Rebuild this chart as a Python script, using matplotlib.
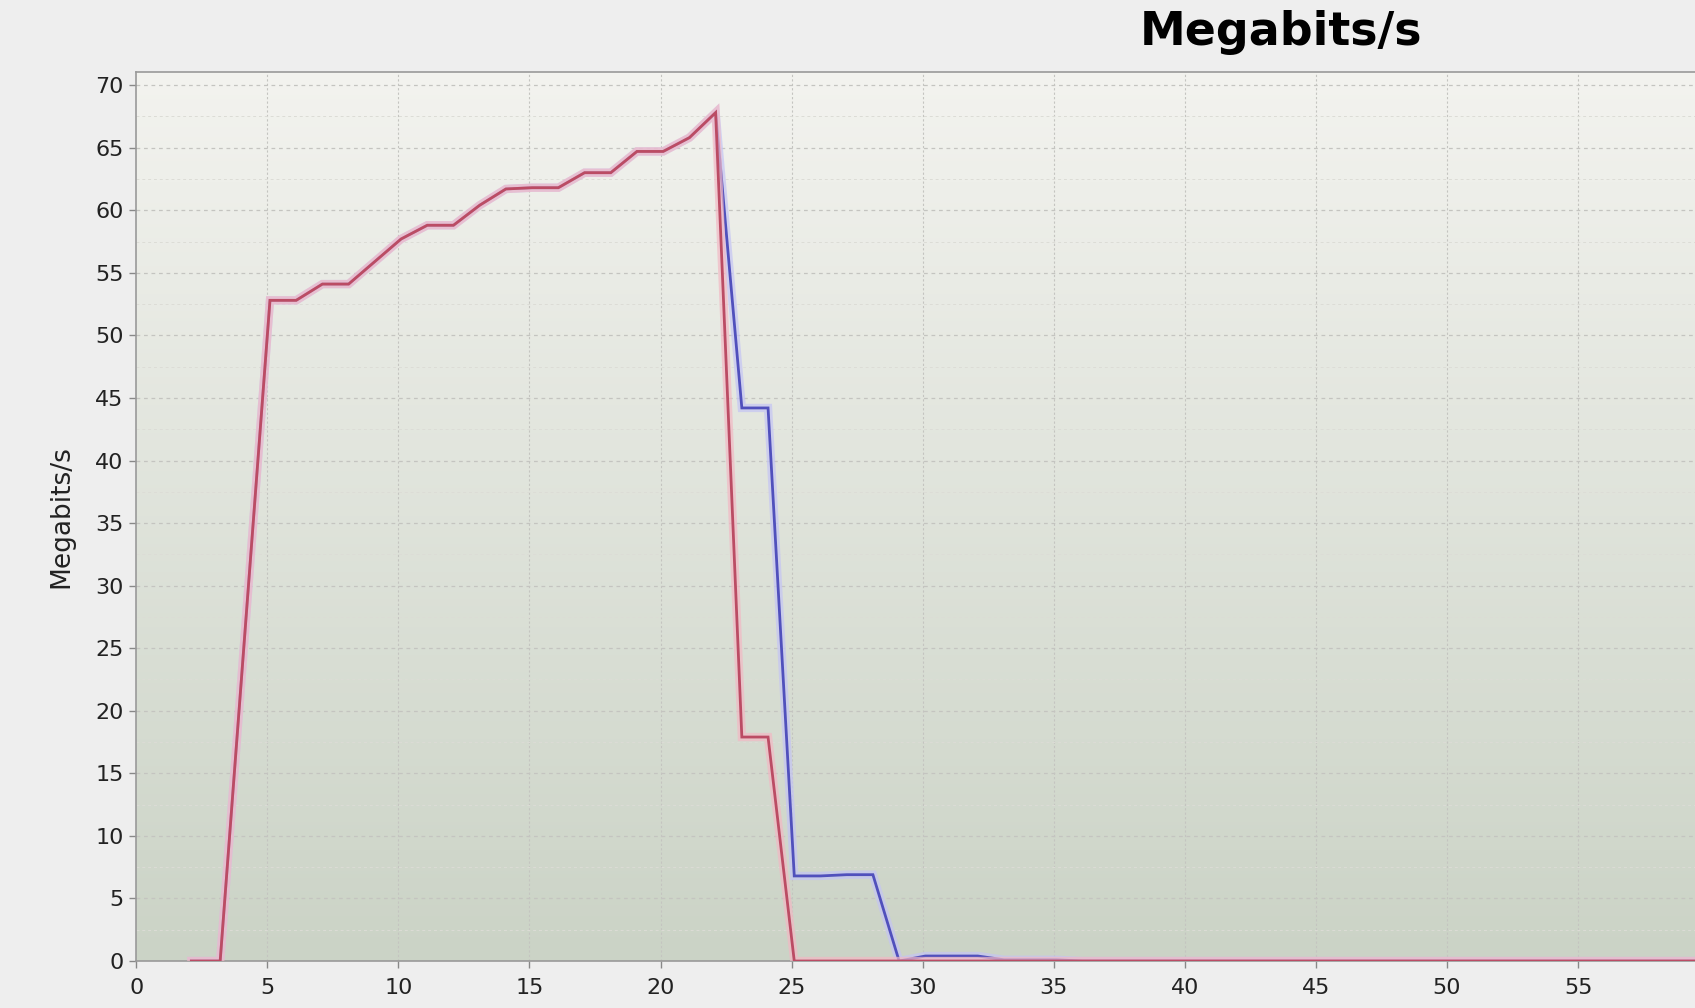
import numpy as np
import matplotlib.pyplot as plt
from matplotlib.colors import LinearSegmentedColormap

# Data (time in s, throughput in Megabits/s)
time_s = [2.1, 3.2, 5.1, 6.1, 7.1, 8.1, 9.1, 10.1, 11.1, 12.1, 13.1, 14.1, 15.1,
          16.1, 17.1, 18.1, 19.1, 20.1, 21.1, 22.1, 23.1, 24.1, 25.1, 26.1, 27.1,
          28.1, 29.1, 30.1, 31.1, 32.1, 33.1, 34.1, 35.1, 36.1, 40.0, 45.0, 50.0,
          55.0, 60.0]
red_mbps = [0, 0, 52.8, 52.8, 54.1, 54.1, 55.9, 57.7, 58.8, 58.8, 60.4, 61.7, 61.8,
            61.8, 63.0, 63.0, 64.7, 64.7, 65.8, 67.8, 17.9, 17.9, 0, 0, 0,
            0, 0, 0, 0, 0, 0, 0, 0, 0, 0, 0, 0,
            0, 0]
blue_mbps = [0, 0, 52.8, 52.8, 54.1, 54.1, 55.9, 57.7, 58.8, 58.8, 60.4, 61.7, 61.8,
             61.8, 63.0, 63.0, 64.7, 64.7, 65.8, 67.8, 44.2, 44.2, 6.8, 6.8, 6.9,
             6.9, 0, 0.4, 0.4, 0.4, 0.1, 0.1, 0.1, 0, 0, 0, 0,
             0, 0]
x_ticks = list(range(0, 60, 5))
y_ticks = list(range(0, 75, 5))

fig = plt.figure(figsize=(16.95, 10.08), dpi=100, facecolor='#eeeeee')
# axes runs off the right edge of the picture (cropped screenshot)
ax = fig.add_axes([0.0804, 0.0466, 0.9196, 0.882])

# plot background gradient (light top, greenish grey bottom)
cmap = LinearSegmentedColormap.from_list('bg', ['#cbd3c6', '#f3f3ef'])
grad = np.linspace(0, 1, 256).reshape(-1, 1)
ax.imshow(grad, cmap=cmap, aspect='auto', origin='lower',
          extent=[0, 1, 0, 1], transform=ax.transAxes, zorder=0)

# grid
for t in x_ticks[1:]:
    ax.axvline(t, color='#c4c4c0', lw=0.8, ls=(0, (2, 2)), zorder=1)
for t in y_ticks[1:]:
    ax.axhline(t, color='#c4c4c0', lw=0.9, ls=(0, (3, 3)), zorder=1)
for t in np.arange(2.5, 71, 5):
    ax.axhline(t, color='#dcdcd6', lw=0.7, ls=(0, (3, 3)), zorder=1)

# lines: soft halo + core, red drawn over blue
ax.plot(time_s, blue_mbps, color='#c4c4f4', lw=6, alpha=0.7, zorder=2,
        solid_joinstyle='miter')
ax.plot(time_s, blue_mbps, color='#5050bc', lw=2, zorder=3,
        solid_joinstyle='miter')
ax.plot(time_s, red_mbps, color='#f2b8c4', lw=6, alpha=0.7, zorder=4,
        solid_joinstyle='miter')
ax.plot(time_s, red_mbps, color='#bb4c64', lw=2, zorder=5,
        solid_joinstyle='miter')

ax.set_xlim(0, 59.46)
ax.set_ylim(0, 71.05)
ax.set_xticks(x_ticks)
ax.set_yticks(y_ticks)
ax.tick_params(axis='both', labelsize=16, colors='#222222', length=5,
               width=1, direction='out', pad=4)
ax.tick_params(axis='x', pad=7)
ax.tick_params(axis='both', color='#888888')

for side in ['left', 'bottom', 'top']:
    ax.spines[side].set_color('#999999')
    ax.spines[side].set_linewidth(1.2)
ax.spines['right'].set_visible(False)

ax.set_ylabel('Megabits/s', fontsize=19, color='#222222', labelpad=15)
fig.text(0.756, 0.968, 'Megabits/s', fontsize=33, fontweight='bold',
         ha='center', va='center', color='#000000')

fig.savefig('out.png', dpi=100, facecolor=fig.get_facecolor())
